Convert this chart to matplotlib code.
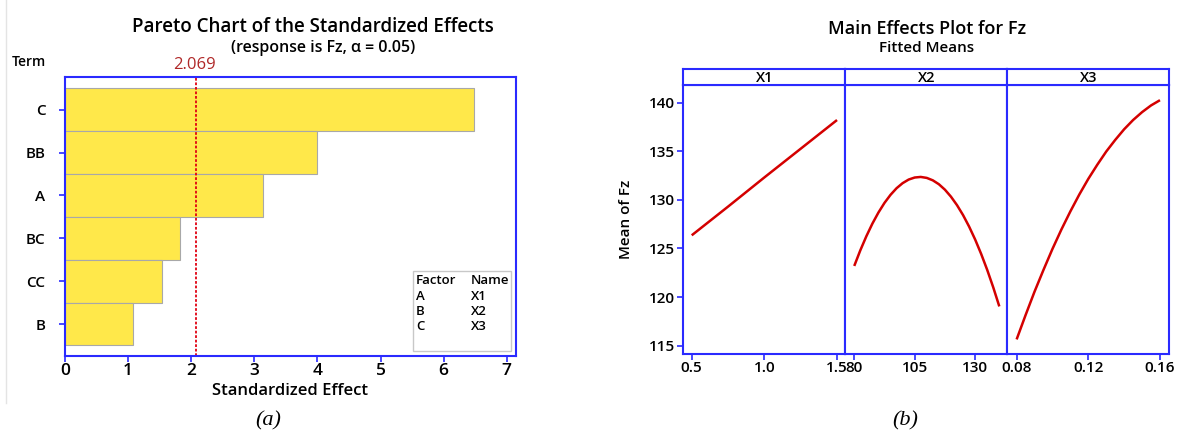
import matplotlib
matplotlib.use("Agg")
import matplotlib.pyplot as plt
from matplotlib.patches import Rectangle
from matplotlib.lines import Line2D

plt.rcParams['font.family'] = ['Open Sans', 'DejaVu Sans']

# Pareto chart data (top to bottom)
terms = ['C', 'BB', 'A', 'BC', 'CC', 'B']
effects = [6.48, 4.00, 3.13, 1.82, 1.54, 1.08]
crit = 2.069
factors = ['A', 'B', 'C']
names = ['X1', 'X2', 'X3']

# Main effects, fitted means
x1 = [0.5, 0.75, 1.0, 1.25, 1.5]
fz1 = [126.35, 129.3, 132.3, 135.25, 138.2]
x2 = [80, 82.5, 85, 87.5, 90, 92.5, 95, 97.5, 100, 102.5, 105, 107.5, 110,
      112.5, 115, 117.5, 120, 122.5, 125, 127.5, 130, 132.5, 135, 137.5, 140]
fz2 = [123.2, 124.8, 126.25, 127.55, 128.69, 129.68, 130.51, 131.19, 131.71,
       132.08, 132.29, 132.35, 132.25, 132.0, 131.6, 131.04, 130.32, 129.45,
       128.43, 127.25, 125.92, 124.43, 122.79, 120.99, 119.04]
x3 = [0.08, 0.085, 0.09, 0.095, 0.10, 0.105, 0.11, 0.115, 0.12, 0.125,
      0.13, 0.135, 0.14, 0.145, 0.15, 0.155, 0.16]
fz3 = [115.65, 118.15, 120.56, 122.8, 124.95, 126.95, 128.81, 130.55, 132.15,
       133.6, 134.96, 136.15, 137.25, 138.2, 139.01, 139.7, 140.24]

blue = '#2a2aff'
yellow = '#ffe84a'
red = '#d40000'

W, H = 1187, 434
fig = plt.figure(figsize=(W / 100, H / 100), dpi=100)


def px(l, t, r, b):
    return [l / W, 1 - b / H, (r - l) / W, (b - t) / H]


# faint edge line of the left image
fig.add_artist(Line2D([5.5 / W, 5.5 / W], [1 - 403 / H, 1], color='#e4e4e4', lw=1))

# ---------- (a) Pareto chart ----------
ax = fig.add_axes(px(65, 76.7, 515.7, 356))
ypos = list(range(len(terms) - 1, -1, -1))
ax.barh(ypos, effects, height=1.0, color=yellow, edgecolor='#a8a8a8', linewidth=0.8)
ax.axvline(crit, color='#e00010', ls=(0, (1.5, 1)), lw=1.3)
ax.set_xlim(0, 7.14)
ax.set_ylim(-0.745, 5.77)
ax.set_yticks(ypos)
ax.set_yticklabels(terms, fontsize=11, fontweight='semibold')
ax.set_xticks(range(8))
ax.set_xticklabels([str(i) for i in range(8)], fontweight='semibold')
ax.tick_params(axis='x', labelsize=12.5, length=4, color=blue, width=1.2, pad=1)
ax.tick_params(axis='y', length=4, color=blue, width=1.2, pad=10)
for s in ax.spines.values():
    s.set_color(blue)
    s.set_linewidth(1.5)
ax.set_xlabel('Standardized Effect', fontsize=12, fontweight='semibold', labelpad=3)

# factor/name key
ax.add_patch(Rectangle((0.772, 0.018), 0.217, 0.286, transform=ax.transAxes,
                       fill=False, edgecolor='#c8c8c8', lw=1.0))
ax.text(0.779, 0.271, 'Factor', transform=ax.transAxes, fontsize=9.5,
        va='center', fontweight='semibold')
ax.text(0.901, 0.271, 'Name', transform=ax.transAxes, fontsize=9.5,
        va='center', fontweight='semibold')
for i, (f, n) in enumerate(zip(factors, names)):
    yy = 0.213 - i * 0.0545
    ax.text(0.779, yy, f, transform=ax.transAxes, fontsize=9.5, va='center',
            fontweight='semibold')
    ax.text(0.901, yy, n, transform=ax.transAxes, fontsize=9.5, va='center',
            fontweight='semibold')

fig.text(312.6 / W, 1 - 26.7 / H, 'Pareto Chart of the Standardized Effects',
         ha='center', va='center', fontsize=13.5, fontweight='semibold')
fig.text(323 / W, 1 - 48 / H, '(response is Fz, α = 0.05)',
         ha='center', va='center', fontsize=11.5, fontweight='semibold')
fig.text(29 / W, 1 - 62.5 / H, 'Term', ha='center', va='center',
         fontsize=10, fontweight='semibold')
fig.text(194 / W, 1 - 65 / H, '%.3f' % crit, ha='center', va='center',
         fontsize=12, color='#b02828')
fig.text(268 / W, 1 - 421 / H, '(a)', ha='center', va='center', fontsize=16,
         family='Liberation Serif', style='italic')

# ---------- (b) Main effects plot ----------
left, right = 683.3, 1169.3
pw = (right - left) / 3
panels = [
    ('X1', x1, fz1, (0.442, 1.557), [0.5, 1.0, 1.5], ['0.5', '1.0', '1.5']),
    ('X2', x2, fz2, (76.3, 143.3), [80, 105, 130], ['80', '105', '130']),
    ('X3', x3, fz3, (0.0748, 0.1652), [0.08, 0.12, 0.16], ['0.08', '0.12', '0.16']),
]
for k, (lab, xs, ys, xl, ticks, tlabels) in enumerate(panels):
    l = left + k * pw
    a = fig.add_axes(px(l, 85, l + pw, 354))
    a.plot(xs, ys, color=red, lw=1.8, solid_capstyle='butt')
    a.set_xlim(*xl)
    a.set_ylim(114.15, 141.8)
    a.set_xticks(ticks)
    a.set_xticklabels(tlabels, fontweight='semibold')
    a.tick_params(axis='x', labelsize=11, length=4, color=blue, width=1.2, pad=1)
    if k == 0:
        a.set_yticks([115, 120, 125, 130, 135, 140])
        a.set_yticklabels(['115', '120', '125', '130', '135', '140'],
                          fontweight='semibold')
        a.tick_params(axis='y', labelsize=11, length=4, color=blue, width=1.2, pad=2)
        a.set_ylabel('Mean of Fz', fontsize=11, fontweight='semibold')
        a.yaxis.set_label_coords(-0.31, 0.5)
    else:
        a.set_yticks([])
    for s in a.spines.values():
        s.set_color(blue)
        s.set_linewidth(1.5)

    st = fig.add_axes(px(l, 69.3, l + pw, 85))
    st.set_xticks([])
    st.set_yticks([])
    for s in st.spines.values():
        s.set_color(blue)
        s.set_linewidth(1.5)
    st.text(0.5, 0.45, lab, ha='center', va='center', fontsize=10.5,
            fontweight='semibold', transform=st.transAxes)

fig.text(927 / W, 1 - 29 / H, 'Main Effects Plot for Fz', ha='center',
         va='center', fontsize=13, fontweight='semibold')
fig.text(927 / W, 1 - 48.5 / H, 'Fitted Means', ha='center', va='center',
         fontsize=11, fontweight='semibold')
fig.text(905 / W, 1 - 421 / H, '(b)', ha='center', va='center', fontsize=16,
         family='Liberation Serif', style='italic')

fig.savefig('out.png', dpi=100)
